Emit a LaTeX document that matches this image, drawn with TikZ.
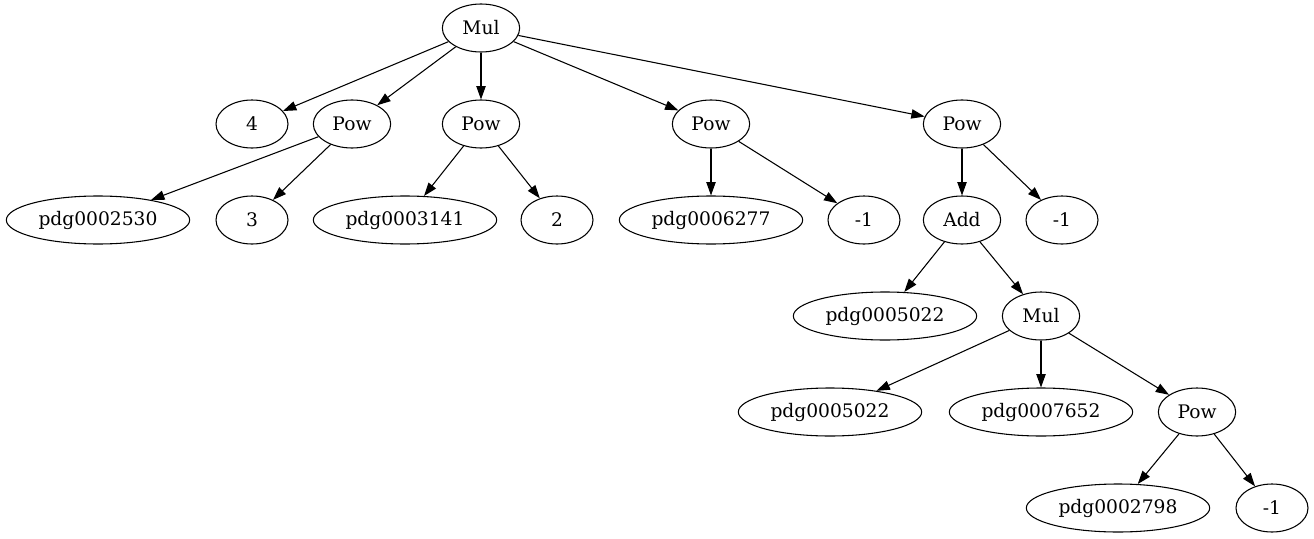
\documentclass[tikz,border=0pt]{standalone}
\usepackage{fontspec}
\setmainfont{DejaVu Serif}
\usepackage{tikz}
\usetikzlibrary{arrows.meta,shapes.geometric}

\begin{document}
\begin{tikzpicture}[x=0.75pt,y=-0.75pt,font=\fontsize{14}{16}\selectfont,
   leaf/.style={draw,ellipse,line width=0.8pt,minimum width=54pt,minimum height=36pt,
                inner xsep=4pt,inner ysep=2pt},
   opnode/.style={leaf,minimum width=58pt},
   arr/.style={-{Triangle[length=10pt,width=7pt]},line width=0.8pt}]
  \useasboundingbox (0,0) rectangle (1314,539);
  % root and first rank
  \node[opnode] (mul)  at (481,28)  {Mul};
  \node[leaf]   (four) at (252,124) {4};
  \node[opnode] (powa) at (352,124) {Pow};
  \node[opnode] (powb) at (481,124) {Pow};
  \node[opnode] (powc) at (711,124) {Pow};
  \node[opnode] (powd) at (962,124) {Pow};
  % second rank
  \node[leaf]   (pdga)  at (98,220)   {pdg0002530};
  \node[leaf]   (three) at (252,220)  {3};
  \node[leaf]   (pdgb)  at (405,220)  {pdg0003141};
  \node[leaf]   (two)   at (557,220)  {2};
  \node[leaf]   (pdgc)  at (711,220)  {pdg0006277};
  \node[leaf]   (mia)   at (864,220)  {-1};
  \node[opnode] (add)   at (962,220)  {Add};
  \node[leaf]   (mib)   at (1062,220) {-1};
  % lower ranks
  \node[leaf]   (pdgd) at (885,316)  {pdg0005022};
  \node[opnode] (mulb) at (1041,316) {Mul};
  \node[leaf]   (pdge) at (830,412)  {pdg0005022};
  \node[leaf]   (pdgf) at (1041,412) {pdg0007652};
  \node[opnode] (powe) at (1197,412) {Pow};
  \node[leaf]   (pdgg) at (1118,508) {pdg0002798};
  \node[leaf]   (mic)  at (1272,508) {-1};

  \draw[arr] (mul) -- (four);
  \draw[arr] (mul) -- (powa);
  \draw[arr] (mul) -- (powb);
  \draw[arr] (mul) -- (powc);
  \draw[arr] (mul) -- (powd);
  \draw[arr] (powa) -- (pdga);
  \draw[arr] (powa) -- (three);
  \draw[arr] (powb) -- (pdgb);
  \draw[arr] (powb) -- (two);
  \draw[arr] (powc) -- (pdgc);
  \draw[arr] (powc) -- (mia);
  \draw[arr] (powd) -- (add);
  \draw[arr] (powd) -- (mib);
  \draw[arr] (add) -- (pdgd);
  \draw[arr] (add) -- (mulb);
  \draw[arr] (mulb) -- (pdge);
  \draw[arr] (mulb) -- (pdgf);
  \draw[arr] (mulb) -- (powe);
  \draw[arr] (powe) -- (pdgg);
  \draw[arr] (powe) -- (mic);
\end{tikzpicture}
\end{document}
